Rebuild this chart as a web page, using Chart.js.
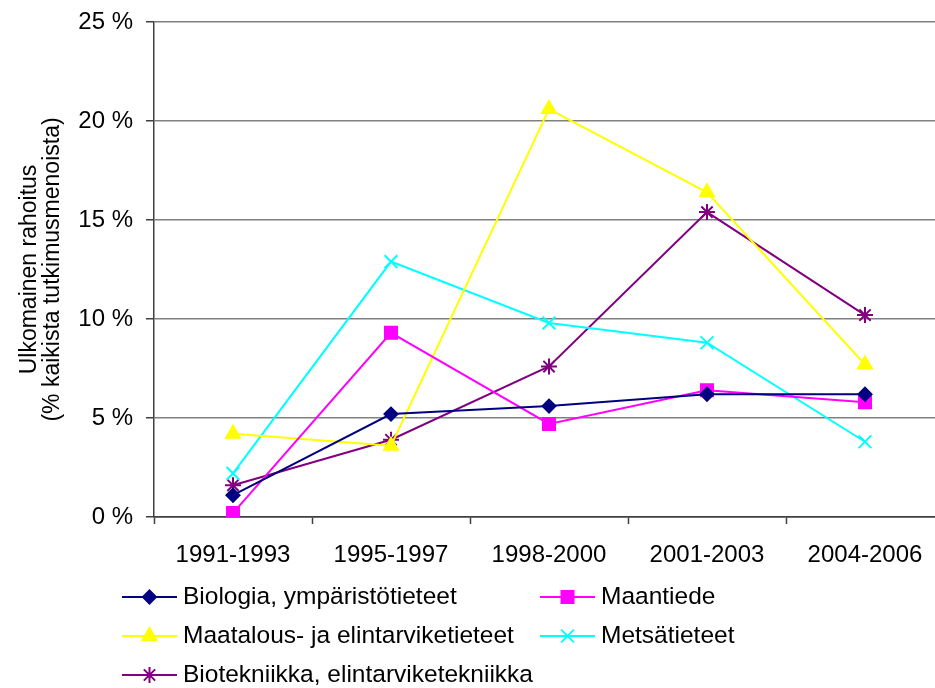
<!DOCTYPE html>
<html>
<head>
<meta charset="utf-8">
<script src="https://cdn.jsdelivr.net/npm/chart.js@4/dist/chart.umd.min.js"></script>
<style>
  html, body { margin: 0; padding: 0; background: #fff; overflow: hidden; width: 955px; height: 688px; }
  #wrap { position: relative; width: 955px; height: 688px; }
</style>
</head>
<body>
<div id="wrap"><canvas id="c"></canvas></div>
<script>
// ---- data ----
const categories = ['1991-1993', '1995-1997', '1998-2000', '2001-2003', '2004-2006'];
const seriesNames = [
  'Biologia, ympäristötieteet',
  'Maantiede',
  'Maatalous- ja elintarviketieteet',
  'Metsätieteet',
  'Biotekniikka, elintarviketekniikka'
];
const biologia   = [1.1, 5.2, 5.6, 6.2, 6.2];
const maantiede  = [0.2, 9.3, 4.7, 6.4, 5.8];
const maatalous  = [4.2, 3.6, 20.6, 16.4, 7.7];
const metsa      = [2.2, 12.9, 9.8, 8.8, 3.8];
const biotek     = [1.6, 3.9, 7.6, 15.4, 10.2];
const yTitle = ['Ulkomainen rahoitus', '(% kaikista tutkimusmenoista)'];

const FONT = '"Liberation Sans", Arial, sans-serif';

function ds(label, data, color, style, radius) {
  return {
    label, data,
    borderColor: color, backgroundColor: color,
    pointBackgroundColor: color, pointBorderColor: color,
    borderWidth: 2, pointStyle: style, pointRadius: radius,
    pointHoverRadius: radius, pointBorderWidth: 2, tension: 0
  };
}

const datasets = [
  ds(seriesNames[0], biologia, '#000080', 'rectRot', 6.5),
  ds(seriesNames[1], maantiede, '#FF00FF', 'rect', 8.5),
  ds(seriesNames[2], maatalous, '#FFFF00', 'triangle', 8),
  ds(seriesNames[3], metsa, '#00FFFF', 'crossRot', 9),
  ds(seriesNames[4], biotek, '#800080', 'star', 8)
];

function drawMarker(ctx, d, x, y) {
  const opts = {
    pointStyle: d.pointStyle, radius: d.pointRadius, rotation: 0, borderWidth: d.pointBorderWidth
  };
  ctx.save();
  ctx.fillStyle = d.pointBackgroundColor;
  ctx.strokeStyle = d.pointBorderColor;
  ctx.lineWidth = d.pointBorderWidth;
  if (Chart.helpers && Chart.helpers.drawPoint) {
    Chart.helpers.drawPoint(ctx, opts, x, y);
  } else {
    ctx.beginPath(); ctx.arc(x, y, d.pointRadius, 0, Math.PI * 2); ctx.fill();
  }
  ctx.restore();
}

const legendPlugin = {
  id: 'customLegend',
  afterDraw(chart) {
    const ctx = chart.ctx;
    const cols = [122, 540];
    const rows = [597, 636, 675];
    const lineLen = 55;
    chart.data.datasets.forEach((d, i) => {
      const x = cols[i % 2];
      const y = rows[Math.floor(i / 2)];
      ctx.save();
      ctx.strokeStyle = d.borderColor;
      ctx.lineWidth = 2;
      ctx.beginPath();
      ctx.moveTo(x, y); ctx.lineTo(x + lineLen, y);
      ctx.stroke();
      ctx.restore();
      drawMarker(ctx, d, x + lineLen / 2, y);
      ctx.save();
      ctx.fillStyle = '#000';
      ctx.font = '24.5px ' + FONT;
      ctx.textBaseline = 'middle';
      ctx.textAlign = 'left';
      ctx.fillText(d.label, x + lineLen + 6, y);
      ctx.restore();
    });
  }
};

new Chart(document.getElementById('c'), {
  type: 'line',
  data: { labels: categories, datasets },
  plugins: [legendPlugin],
  options: {
    responsive: true,
    maintainAspectRatio: false,
    animation: false,
    layout: { padding: { top: 22, right: 1, bottom: 0, left: 0 } },
    plugins: { legend: { display: false }, tooltip: { enabled: false } },
    scales: {
      x: {
        type: 'category',
        offset: true,
        afterFit(s) { s.height = 171; s.paddingLeft = 0; s.paddingRight = 0; },
        grid: {
          offset: true, drawOnChartArea: false, drawTicks: true,
          tickLength: 7, tickColor: '#404040', tickWidth: 1.5
        },
        border: { color: '#404040', width: 1.5 },
        ticks: { color: '#000', font: { family: FONT, size: 24 }, padding: 17, maxRotation: 0, autoSkip: false }
      },
      y: {
        min: 0, max: 25,
        afterFit(s) { s.width = 154; s.paddingTop = 0; s.paddingBottom = 0; },
        ticks: {
          stepSize: 5, color: '#000', padding: 13,
          font: { family: FONT, size: 24 },
          callback: v => v + ' %'
        },
        grid: {
          color: ctx => (ctx.tick && ctx.tick.value === 0) ? '#404040' : '#808080',
          lineWidth: 1.5, tickLength: 8, tickColor: '#404040', tickWidth: 1.5
        },
        border: { color: '#404040', width: 1.5 },
        title: {
          display: true, text: yTitle, color: '#000',
          font: { family: FONT, size: 23, lineHeight: 0.97 },
          padding: { top: 19, bottom: 0 }
        }
      }
    }
  }
});
</script>
</body>
</html>
